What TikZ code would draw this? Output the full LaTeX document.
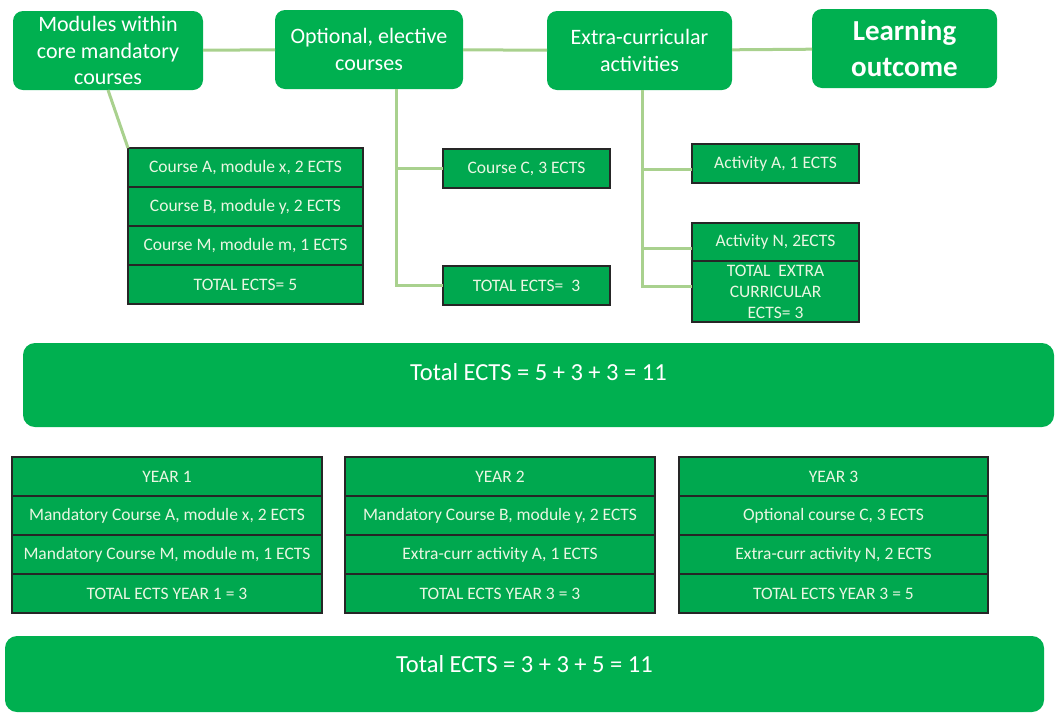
\documentclass[tikz,border=0pt]{standalone}
\usepackage{fontspec}
\setmainfont{Carlito}
\usetikzlibrary{positioning}
\definecolor{boxgreen}{HTML}{00B050}
\definecolor{cellgreen}{HTML}{00A84F}
\definecolor{linkgreen}{HTML}{A9D18E}
\definecolor{celltext}{HTML}{EAF6E2}

\begin{document}
\begin{tikzpicture}[x=1pt,y=-1pt,
    every node/.style={inner sep=0pt, outer sep=0pt},
    topbox/.style={fill=boxgreen, rounded corners=10pt, text=white, align=center,
      minimum height=79pt, font=\fontsize{22}{26.5}\selectfont},
    cell/.style={draw=black!85, line width=1.5pt, fill=cellgreen, text=celltext,
      align=center, minimum height=39pt, font=\fontsize{17.5}{21}\selectfont},
    bar/.style={fill=boxgreen, rounded corners=12pt, text=white, anchor=north west,
      font=\fontsize{24.5}{28}\selectfont},
    link/.style={draw=linkgreen, line width=3pt}]
  \useasboundingbox (0,0) rectangle (1055,713);

  % headings
  \node[topbox, minimum width=190pt] (mods) at (108,50.5) {Modules within\\core mandatory\\courses};
  \node[topbox, minimum width=188pt] (opt) at (369,49.5) {Optional, elective\\courses};
  \node[topbox, minimum width=185pt] (extra) at (639.5,50.5) {Extra-curricular\\activities};
  \node[topbox, minimum width=185pt, font=\bfseries\fontsize{29}{35.5}\selectfont] (learn) at (904.5,48.5) {Learning\\outcome};

  % mandatory modules
  \node[cell, minimum width=235pt, anchor=north west] (courseA) at (128,148) {Course A, module x, 2 ECTS};
  \node[cell, minimum width=235pt, below=0pt of courseA] (courseB) {Course B, module y, 2 ECTS};
  \node[cell, minimum width=235pt, below=0pt of courseB] (courseM) {Course M, module m, 1 ECTS};
  \node[cell, minimum width=235pt, below=0pt of courseM] (totMods) {TOTAL ECTS= 5};

  % elective courses
  \node[cell, minimum width=167pt, anchor=north west] (courseC) at (443,149) {Course C, 3 ECTS};
  \node[cell, minimum width=167pt, anchor=north west] (totC) at (443,266) {TOTAL ECTS=\ \ 3};

  % activities
  \node[cell, minimum width=167pt, anchor=north west] (actA) at (692,144) {Activity A, 1 ECTS};
  \node[cell, minimum width=167pt, minimum height=38pt, anchor=north west] (actN) at (692,223) {Activity N, 2ECTS};
  \node[cell, minimum width=167pt, minimum height=61pt, below=0pt of actN] (totX) {TOTAL\ \ EXTRA\\CURRICULAR\\ECTS= 3};

  \draw[link] (mods) -- (opt);
  \draw[link] (opt) -- (extra);
  \draw[link] (extra) -- (learn);
  \draw[link] (mods.south) -- (courseA.north west);
  \draw[link] ([xshift=27pt]opt.south) |- (courseC);
  \draw[link] ([xshift=27pt]opt.south) |- (totC);
  \draw[link] ([xshift=3pt]extra.south) |- ([yshift=-6pt]actA.west);
  \draw[link] ([xshift=3pt]extra.south) |- ([yshift=-6pt]actN.west);
  \draw[link] ([xshift=3pt]extra.south) |- ([yshift=5pt]totX.west);

  \node[bar, minimum width=1031pt, text height=37pt, text depth=47pt] (sumA) at (23,343) {Total ECTS = 5 + 3 + 3 = 11};

  % per year
  \node[cell, minimum width=310pt, anchor=north west] (yearA) at (12,457) {YEAR 1};
  \node[cell, minimum width=310pt, below=0pt of yearA] (yearAa) {Mandatory Course A, module x, 2 ECTS};
  \node[cell, minimum width=310pt, below=0pt of yearAa] (yearAb) {Mandatory Course M, module m, 1 ECTS};
  \node[cell, minimum width=310pt, below=0pt of yearAb] (yearAt) {TOTAL ECTS YEAR 1 = 3};

  \node[cell, minimum width=310pt, anchor=north west] (yearB) at (345,457) {YEAR 2};
  \node[cell, minimum width=310pt, below=0pt of yearB] (yearBa) {Mandatory Course B, module y, 2 ECTS};
  \node[cell, minimum width=310pt, below=0pt of yearBa] (yearBb) {Extra-curr activity A, 1 ECTS};
  \node[cell, minimum width=310pt, below=0pt of yearBb] (yearBt) {TOTAL ECTS YEAR 3 = 3};

  \node[cell, minimum width=309pt, anchor=north west] (yearC) at (679,457) {YEAR 3};
  \node[cell, minimum width=309pt, below=0pt of yearC] (yearCa) {Optional course C, 3 ECTS};
  \node[cell, minimum width=309pt, below=0pt of yearCa] (yearCb) {Extra-curr activity N, 2 ECTS};
  \node[cell, minimum width=309pt, below=0pt of yearCb] (yearCt) {TOTAL ECTS YEAR 3 = 5};

  \node[bar, minimum width=1039pt, text height=36pt, text depth=40pt] (sumB) at (5,636) {Total ECTS = 3 + 3 + 5 = 11};
\end{tikzpicture}
\end{document}
